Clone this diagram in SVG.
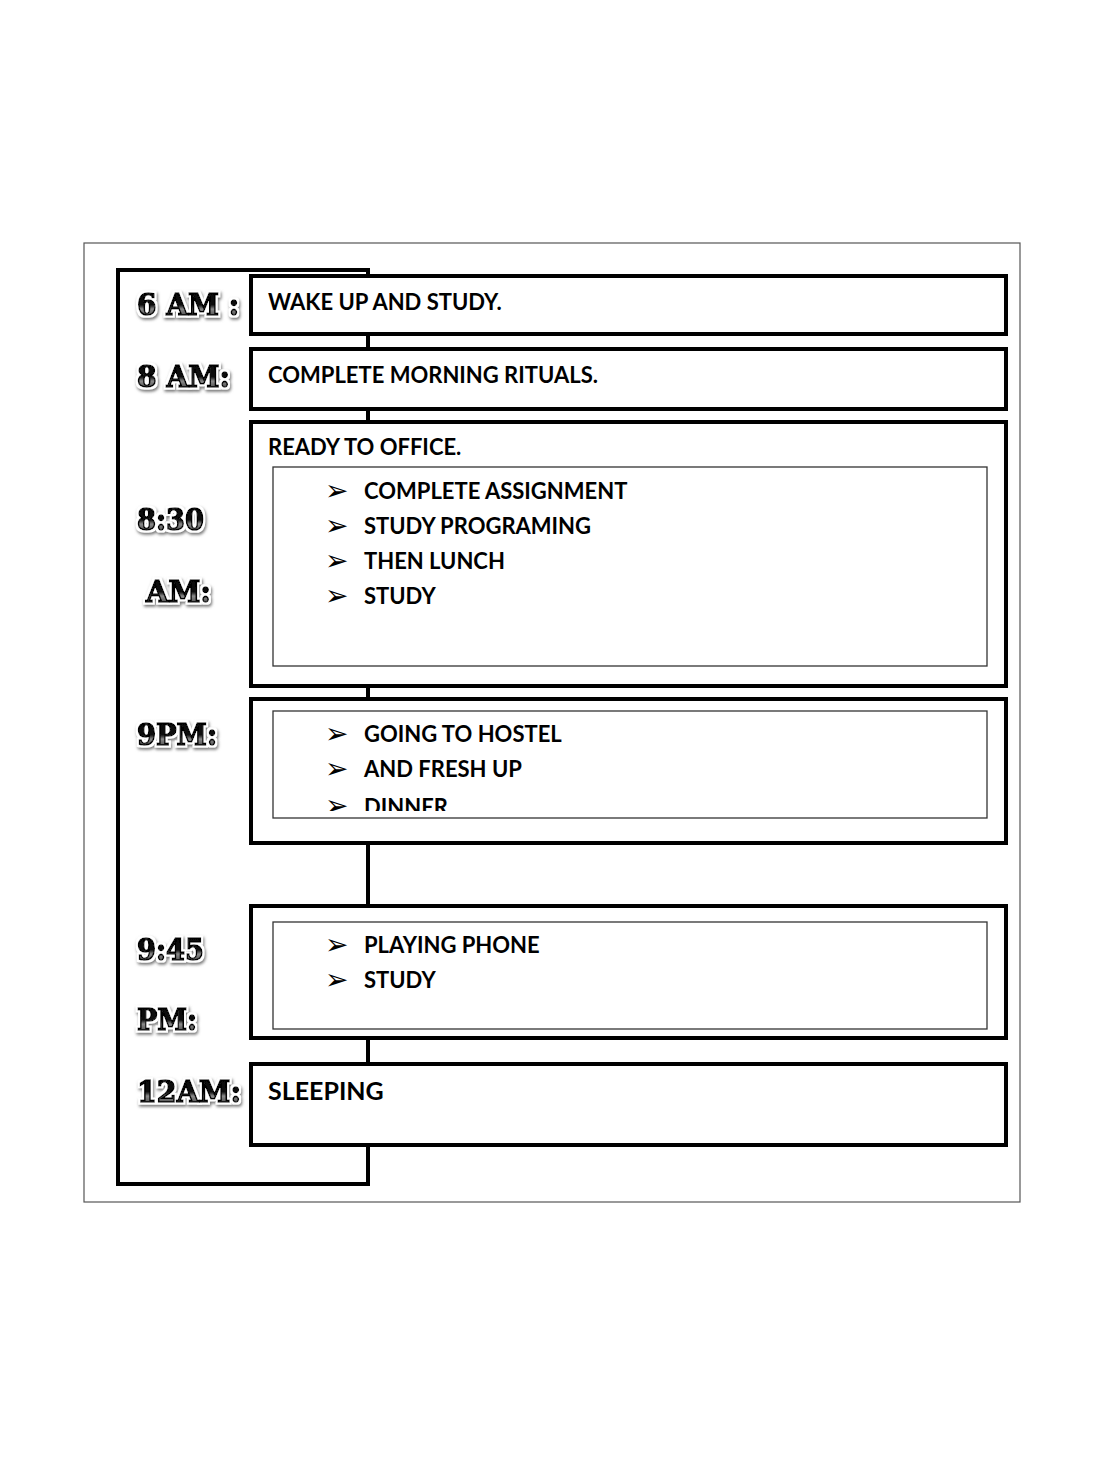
<svg xmlns="http://www.w3.org/2000/svg" width="1097" height="1484" viewBox="0 0 1097 1484">
<defs>
<linearGradient id="tg" x1="0" y1="0" x2="0" y2="1">
<stop offset="0" stop-color="#000"/>
<stop offset="0.5" stop-color="#111"/>
<stop offset="0.62" stop-color="#8a8a8a"/>
<stop offset="1" stop-color="#1a1a1a"/>
</linearGradient>
<filter id="sh" x="-10%" y="-30%" width="130%" height="170%">
<feMorphology in="SourceAlpha" operator="dilate" radius="1.6" result="d"/>
<feGaussianBlur in="d" stdDeviation="1.4" result="b"/>
<feOffset in="b" dx="1" dy="1.5" result="o"/>
<feFlood flood-color="#777"/><feComposite in2="o" operator="in" result="s"/>
<feFlood flood-color="#fff"/><feComposite in2="d" operator="in" result="w"/>
<feMerge><feMergeNode in="s"/><feMergeNode in="w"/><feMergeNode in="SourceGraphic"/></feMerge>
</filter>
<clipPath id="c4"><rect x="273" y="711" width="714" height="100"/></clipPath>
</defs>
<style>
.box{fill:#fff;stroke:#000;stroke-width:4}
.inner{fill:#fff;stroke:#333;stroke-width:1.3}
.t{font-family:Lato,"Open Sans","Liberation Sans",sans-serif;font-weight:bold;font-size:22px;fill:#000}
.b{font-family:"DejaVu Sans",sans-serif;font-size:28px;fill:#000}
.time{font-family:"DejaVu Serif","Liberation Serif",serif;font-weight:bold;font-size:29px;fill:url(#tg);stroke:#000;stroke-width:1.6;filter:url(#sh)}
</style>
<rect width="1097" height="1484" fill="#fff"/>
<rect id="frame" x="84" y="243" width="936" height="959" fill="none" stroke="#555" stroke-width="1.2"/>
<g id="connectors">
<rect x="118" y="270" width="250" height="914" fill="none" stroke="#000" stroke-width="4"/>
</g>
<g id="n1">
<rect class="box" x="251" y="276" width="755" height="58"/>
<text class="t" x="268" y="310">WAKE UP AND STUDY.</text>
<text class="time" x="137" y="315" textLength="102" lengthAdjust="spacingAndGlyphs">6 AM :</text>
</g>
<g id="n2">
<rect class="box" x="251" y="349" width="755" height="60"/>
<text class="t" x="268" y="383">COMPLETE MORNING RITUALS.</text>
<text class="time" x="137" y="387" textLength="93" lengthAdjust="spacingAndGlyphs">8 AM:</text>
</g>
<g id="n3">
<rect class="box" x="251" y="422" width="755" height="264"/>
<text class="t" x="268" y="455">READY TO OFFICE.</text>
<rect class="inner" x="273" y="467" width="714" height="199"/>
<text class="b" x="325" y="500">➢</text><text class="t" x="364" y="499">COMPLETE ASSIGNMENT</text>
<text class="b" x="325" y="535">➢</text><text class="t" x="364" y="534">STUDY PROGRAMING</text>
<text class="b" x="325" y="570">➢</text><text class="t" x="364" y="569">THEN LUNCH</text>
<text class="b" x="325" y="605">➢</text><text class="t" x="364" y="604">STUDY</text>
<text class="time" x="137" y="530" textLength="67" lengthAdjust="spacingAndGlyphs">8:30</text>
<text class="time" x="146" y="602" textLength="65" lengthAdjust="spacingAndGlyphs">AM:</text>
</g>
<g id="n4">
<rect class="box" x="251" y="699" width="755" height="144"/>
<rect class="inner" x="273" y="711" width="714" height="107"/>
<g clip-path="url(#c4)">
<text class="b" x="325" y="743">➢</text><text class="t" x="364" y="742">GOING TO HOSTEL</text>
<text class="b" x="325" y="778">➢</text><text class="t" x="364" y="777">AND FRESH UP</text>
<text class="b" x="325" y="815">➢</text><text class="t" x="364" y="815">DINNER</text>
</g>
<text class="time" x="137" y="745" textLength="80" lengthAdjust="spacingAndGlyphs">9PM:</text>
</g>
<g id="n5">
<rect class="box" x="251" y="906" width="755" height="132"/>
<rect class="inner" x="273" y="922" width="714" height="107"/>
<text class="b" x="325" y="954">➢</text><text class="t" x="364" y="953">PLAYING PHONE</text>
<text class="b" x="325" y="989">➢</text><text class="t" x="364" y="988">STUDY</text>
<text class="time" x="137" y="960" textLength="67" lengthAdjust="spacingAndGlyphs">9:45</text>
<text class="time" x="137" y="1030" textLength="60" lengthAdjust="spacingAndGlyphs">PM:</text>
</g>
<g id="n6">
<rect class="box" x="251" y="1064" width="755" height="81"/>
<text class="t" x="268" y="1100" style="font-size:25px">SLEEPING</text>
<text class="time" x="137" y="1102" textLength="104" lengthAdjust="spacingAndGlyphs">12AM:</text>
</g>
</svg>
